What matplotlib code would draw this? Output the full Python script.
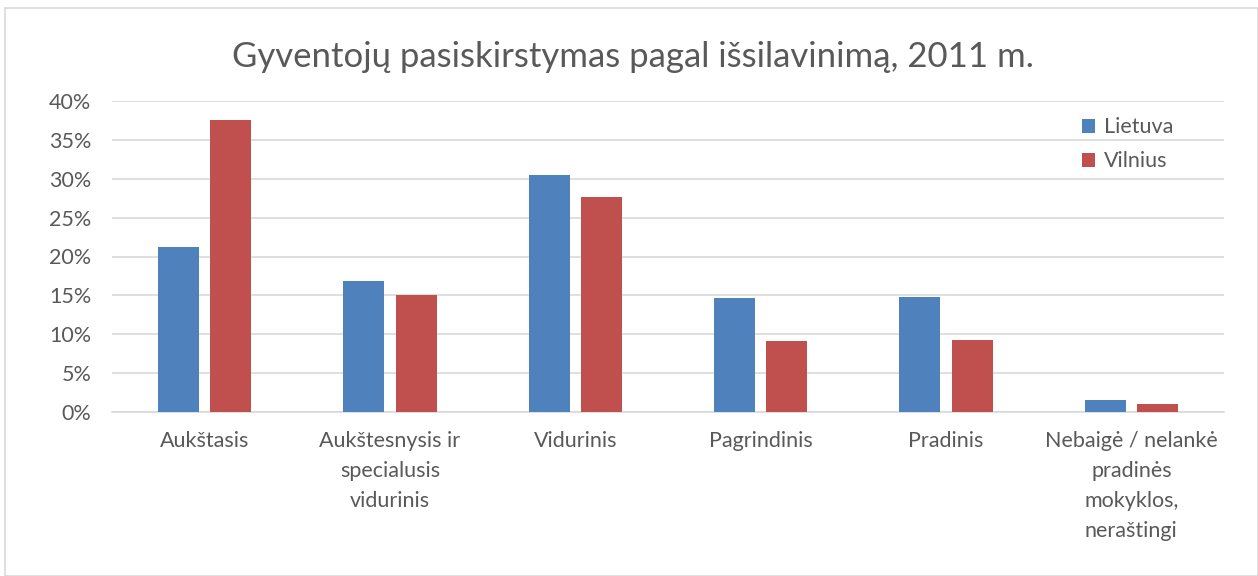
import matplotlib
matplotlib.use("Agg")
import matplotlib.pyplot as plt
import numpy as np
from matplotlib.patches import Rectangle

categories = ["Aukštasis", "Aukštesnysis ir\nspecialusis\nvidurinis", "Vidurinis",
              "Pagrindinis", "Pradinis", "Nebaigė / nelankė\npradinės\nmokyklos,\nneraštingi"]
lietuva = [21.2, 16.9, 30.5, 14.6, 14.8, 1.6]
vilnius = [37.6, 15.1, 27.7, 9.1, 9.2, 1.0]
series_names = ["Lietuva", "Vilnius"]
yticks = [0, 5, 10, 15, 20, 25, 30, 35, 40]
title = "Gyventojų pasiskirstymas pagal išsilavinimą, 2011 m."

plt.rcParams['font.family'] = ['Lato', 'DejaVu Sans']
txt = '#595959'
blue = '#4f81bd'
red = '#c0504d'

fig = plt.figure(figsize=(12.58, 5.76), dpi=100)
fig.patches.append(Rectangle((5/1258, 0), 1 - 5/1258, 1 - 8/576, transform=fig.transFigure,
                             fill=False, edgecolor='#d9d9d9', lw=1.2))
ax = fig.add_axes([112/1258, 1 - 412/576, (1224-112)/1258, (412-101)/576])
x = np.arange(len(categories))
w = 0.22
ax.bar(x - 0.141, lietuva, w, color=blue, label=series_names[0], zorder=3)
ax.bar(x + 0.141, vilnius, w, color=red, label=series_names[1], zorder=3)
ax.set_xlim(-0.5, len(categories) - 0.5)
ax.set_ylim(0, 40)
ax.set_yticks(yticks)
ax.set_yticklabels([f"{v}%" for v in yticks])
ax.set_xticks(x)
ax.set_xticklabels(categories, linespacing=1.62)
ax.yaxis.grid(True, color='#d9d9d9', lw=1.2, zorder=0)
for s in ['top', 'right', 'left']:
    ax.spines[s].set_visible(False)
ax.spines['bottom'].set_color('#d9d9d9')
ax.spines['bottom'].set_linewidth(1.2)
ax.tick_params(axis='both', length=0, labelsize=15.5, colors=txt)
ax.tick_params(axis='x', pad=14)
ax.tick_params(axis='y', pad=15)
fig.text(633/1258, 1 - 57/576, title, ha='center', va='center', fontsize=25, color=txt)
leg = ax.legend(loc='upper left', bbox_to_anchor=(0.855, 1.01), frameon=False,
                fontsize=15.5, handlelength=0.6, handleheight=0.6, handletextpad=0.4,
                labelspacing=0.65)
for t in leg.get_texts():
    t.set_color(txt)
fig.savefig("out.png", dpi=100)
